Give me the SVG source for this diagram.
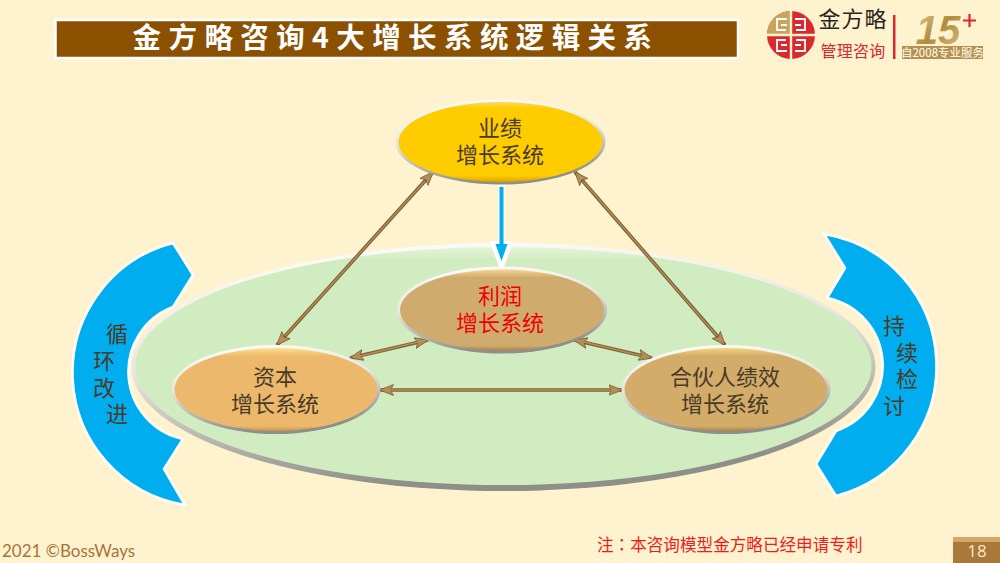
<svg xmlns="http://www.w3.org/2000/svg" width="1000" height="563" viewBox="0 0 1000 563">
<style>
text{font-family:"Noto Sans CJK SC","Liberation Sans",sans-serif}
.lbl{font-size:22px;fill:#4a3a28;text-anchor:middle}
.cd{stroke:#7d6036;stroke-width:3.6;fill:none}
.cl{stroke:#b48e55;stroke-width:1.4;fill:none}
.blue{fill:#00aeef;stroke:#fff;stroke-width:2.5;stroke-linejoin:miter}
.rim{fill:url(#rim)}
.fret{fill:none;stroke:#fff;stroke-width:1.8}
</style>
<defs>
<linearGradient id="rim" x1="0" y1="0" x2="0.25" y2="1"><stop offset="0" stop-color="#ffffff"/><stop offset="0.5" stop-color="#e8e6dc"/><stop offset="1" stop-color="#8f8f8a"/></linearGradient>
<linearGradient id="gy" x1="0" y1="0" x2="0" y2="1"><stop offset="0" stop-color="#ffd95a"/><stop offset="0.08" stop-color="#ffcc00"/><stop offset="0.92" stop-color="#ffcc00"/><stop offset="1" stop-color="#d9a400"/></linearGradient>
<linearGradient id="gp" x1="0" y1="0" x2="0" y2="1"><stop offset="0" stop-color="#f4d68e"/><stop offset="0.1" stop-color="#cfac6e"/><stop offset="0.94" stop-color="#cfac6e"/><stop offset="1" stop-color="#aa8648"/></linearGradient>
<linearGradient id="gc" x1="0" y1="0" x2="0" y2="1"><stop offset="0" stop-color="#ffe08a"/><stop offset="0.1" stop-color="#ecb96c"/><stop offset="0.94" stop-color="#ecb96c"/><stop offset="1" stop-color="#c8954a"/></linearGradient>
<linearGradient id="gt" x1="0" y1="0" x2="0" y2="1"><stop offset="0" stop-color="#f6d27c"/><stop offset="0.1" stop-color="#d2ac68"/><stop offset="0.94" stop-color="#d2ac68"/><stop offset="1" stop-color="#ad8846"/></linearGradient>
<linearGradient id="gg" x1="0" y1="0" x2="0" y2="1"><stop offset="0" stop-color="#e6f5d8"/><stop offset="0.05" stop-color="#d2ecc2"/><stop offset="1" stop-color="#d2ecc2"/></linearGradient>
<linearGradient id="gold" x1="0" y1="0" x2="1" y2="1"><stop offset="0" stop-color="#e8cf8e"/><stop offset="0.5" stop-color="#b08a3e"/><stop offset="1" stop-color="#ddc282"/></linearGradient>
<marker id="ah" viewBox="0 0 14 12" refX="13.500" refY="6" markerWidth="14" markerHeight="12" markerUnits="userSpaceOnUse" orient="auto-start-reverse"><path d="M0 0.500L14 6L0 11.500L3 6Z" fill="#b48e55" stroke="#6f5530" stroke-width="0.700"/></marker>
</defs>
<rect width="1000" height="563" fill="#fff2ce"/>

<g id="title">
<rect x="55.500" y="20" width="682.500" height="38" fill="#8b5000" stroke="#fff" stroke-width="2.500"/>
<text x="396" y="48" font-size="28.500" font-weight="700" fill="#fff" text-anchor="middle" letter-spacing="7.400">金方略咨询4大增长系统逻辑关系</text>
</g>

<g id="logo">
<circle cx="791" cy="35" r="24" fill="#d9282e"/>
<path d="M791 35V11A24 24 0 0 0 767 35Z" fill="#c9a45c"/>
<path d="M791 9V61M765 35H817" fill="none" stroke="#fff2ce" stroke-width="2.400"/>
<path class="fret" d="M787 19H777V30H786M781 25H787M795 19H805V30H796M801 25H795M787 51H777V40H786M781 45H787M795 51H805V40H796M801 45H795"/>
<text x="853" y="27" font-size="22" fill="#2a2420" text-anchor="middle" letter-spacing="1">金方略</text>
<text x="853" y="57" font-size="16" fill="#d9282e" text-anchor="middle" letter-spacing="0.200">管理咨询</text>
<rect x="893" y="15" width="2.500" height="44" fill="#d9282e"/>
<text x="938" y="44" font-size="40" font-weight="700" font-style="italic" fill="url(#gold)" text-anchor="middle" style="font-family:'Liberation Sans',sans-serif">15</text>
<path d="M963 20.500H976M969.500 14V27" stroke="#e0262c" stroke-width="2.200" fill="none"/>
<rect x="902" y="46" width="81" height="13" fill="#b8924a"/>
<text x="942.500" y="57" font-size="11.500" fill="#fff" text-anchor="middle">自2008专业服务</text>
</g>

<g id="loop-left">
<path class="blue" d="M173 243L193 275L173 307A69 69 0 0 0 183 439L164 469L185 505A134 134 0 0 1 173 243Z"/>
<text class="lbl" x="117" y="342">循</text>
<text class="lbl" x="104" y="369">环</text>
<text class="lbl" x="104" y="396">改</text>
<text class="lbl" x="117" y="422">进</text>
</g>

<g id="loop-right">
<path class="blue" d="M824 234L845 268L827 298A69 69 0 0 1 836 431L816 464L836 496A134 134 0 0 0 824 234Z"/>
<text class="lbl" x="894" y="334">持</text>
<text class="lbl" x="907" y="361">续</text>
<text class="lbl" x="907" y="387">检</text>
<text class="lbl" x="894" y="414">讨</text>
</g>

<g id="platform">
<ellipse class="rim" cx="503.500" cy="367" rx="372" ry="124"/>
<ellipse cx="503.500" cy="366" rx="368" ry="119" fill="url(#gg)"/>
</g>

<g id="connectors">
<path class="cd" marker-start="url(#ah)" marker-end="url(#ah)" d="M433 172L277 345"/>
<path class="cl" d="M425 181L285 336"/>
<path class="cd" marker-start="url(#ah)" marker-end="url(#ah)" d="M575 172L725 345"/>
<path class="cl" d="M583 181L717 336"/>
<path class="cd" marker-start="url(#ah)" marker-end="url(#ah)" d="M350 358L428 340"/>
<path class="cl" d="M360 356L418 342"/>
<path class="cd" marker-start="url(#ah)" marker-end="url(#ah)" d="M574 340L652 358"/>
<path class="cl" d="M584 342L642 356"/>
<path class="cd" marker-start="url(#ah)" marker-end="url(#ah)" d="M380 390H622"/>
<path class="cl" d="M390 390H612"/>
<path d="M501.500 184V244H509L501.500 265L494 244H501.500" fill="#fff" stroke="#fff" stroke-width="6"/>
<path d="M499.500 187H503.500V244H507.500L501.500 261L495.500 244H499.500Z" fill="#00aeef"/>
</g>

<g id="node-performance">
<ellipse class="rim" cx="500.500" cy="142" rx="105" ry="42.500"/>
<ellipse cx="500.500" cy="142" rx="102" ry="40" fill="url(#gy)"/>
<text class="lbl" x="500" y="136">业绩</text>
<text class="lbl" x="500" y="163">增长系统</text>
</g>
<g id="node-profit">
<ellipse class="rim" cx="502" cy="310" rx="105" ry="43.500"/>
<ellipse cx="502" cy="310" rx="102" ry="40.500" fill="url(#gp)"/>
<text class="lbl" x="500" y="304" style="fill:#f00000">利润</text>
<text class="lbl" x="500" y="331" style="fill:#f00000">增长系统</text>
</g>
<g id="node-capital">
<ellipse class="rim" cx="276" cy="389.500" rx="104.500" ry="44.500"/>
<ellipse cx="276" cy="389.500" rx="101.500" ry="41.500" fill="url(#gc)"/>
<text class="lbl" x="275" y="385">资本</text>
<text class="lbl" x="275" y="412">增长系统</text>
</g>
<g id="node-partner">
<ellipse class="rim" cx="726" cy="389.500" rx="104.500" ry="44.500"/>
<ellipse cx="726" cy="389.500" rx="101.500" ry="41.500" fill="url(#gt)"/>
<text class="lbl" x="725" y="385">合伙人绩效</text>
<text class="lbl" x="725" y="412">增长系统</text>
</g>

<g id="footer">
<text x="2" y="557" font-size="17" fill="#a8743a" style="font-family:Lato,'Open Sans',sans-serif">2021 ©BossWays</text>
<text x="597" y="551" font-size="16.600" fill="#f01c1c">注<tspan style="font-family:'Noto Sans CJK TC',sans-serif">：</tspan>本咨询模型金方略已经申请专利</text>
<rect x="953" y="537" width="47" height="26" fill="#a9793a"/>
<rect x="953" y="537" width="47" height="5" fill="#d4a868"/>
<text x="977" y="557" font-size="17" fill="#f7e9cc" text-anchor="middle" style="font-family:'Open Sans','Noto Sans',sans-serif">18</text>
</g>
</svg>
